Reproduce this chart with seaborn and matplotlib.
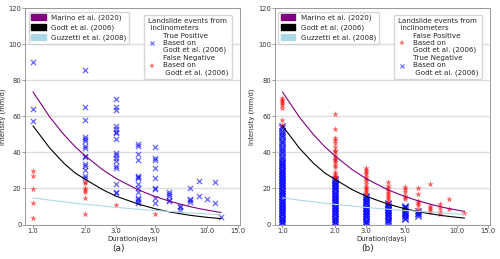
import pandas as pd
import matplotlib
matplotlib.use("Agg")
import matplotlib.pyplot as plt
import seaborn as sns
from matplotlib.patches import Patch
from matplotlib.lines import Line2D
from matplotlib.ticker import NullLocator

# --- threshold curves ---
curve_dur = [1, 1.25, 1.5, 1.75, 2, 2.5, 3, 4, 5, 6, 7, 8, 9, 10, 11, 12]
marino = [73.5, 59.5, 50.0, 43.0, 38.0, 30.5, 25.5, 19.3, 15.6, 13.1, 11.3, 9.9, 8.8, 8.0, 7.3, 6.7]
godt = [54.7, 42.3, 34.1, 28.5, 25.0, 19.4, 15.7, 11.4, 8.8, 7.1, 6.0, 5.1, 4.5, 4.0, 3.6, 3.3]
guzzetti = [14.8, 13.5, 12.6, 11.8, 11.2, 10.3, 9.5, 8.5, 7.8, 7.3, 6.9, 6.4, 6.2, 5.9, 5.6, 5.4]

# --- panel (a) events ---
a_tp_dur = ([1] * 3 + [2] * 15 + [3] * 17 + [4] * 14 + [5] * 9 + [6] * 5
            + [7] * 3 + [8] * 4 + [9] * 2 + [10] + [11] * 2 + [12])
a_tp_int = [90, 64, 57.5,
            85.5, 65, 58, 48.5, 47.5, 46.5, 43.5, 42.5, 38, 37.5, 33.5, 32.5, 30.5, 27, 26,
            69.5, 65, 63.5, 54.5, 53, 51.5, 50.5, 47.3, 39.7, 38.3, 36.8, 35.3, 32.5, 31.4, 22.5, 18.2, 17.5,
            44.8, 43.3, 38.9, 35.6, 27, 26.3, 25.6, 22.2, 20.4, 18.1, 14.8, 14.1, 13, 12.2,
            43, 37, 36, 31.1, 25.9, 20, 19.6, 14.8, 11.9,
            18.1, 17, 15.9, 13.7, 13,
            10.4, 9.6, 7.8,
            20, 14.4, 13.7, 12.6,
            24.4, 15.9,
            14.1,
            23.7, 12.2,
            4.1]
a_fn_dur = [1] * 5 + [2] * 7 + [3] + [5]
a_fn_int = [29.5, 27, 19.5, 12, 3.5,
            23.5, 23, 20.5, 19.3, 18, 14.8, 6,
            10.9,
            5.8]

# --- panel (b) events ---
b_fp_dur = ([1] * 8 + [2] * 20 + [3] * 13 + [4] * 9 + [5] * 6 + [6] * 6
            + [7] * 5 + [8] * 4 + [9] * 2 + [11])
b_fp_int = [70.2, 69.3, 68.2, 67.1, 66, 64.8, 58, 55.3,
            61.5, 53, 48, 46.8, 45, 43.2, 41, 40.5, 38.5, 37.6, 36.5, 35.5, 34.5, 33.2, 32, 29, 28, 27, 26.2, 25.6,
            31.3, 30.2, 29, 27.8, 26.2, 25, 24, 22.4, 21, 20.2, 19.2, 18, 16.9,
            23.6, 21.5, 20.1, 18.8, 17.4, 16.4, 15.5, 14, 12.5,
            20.6, 19.5, 17.9, 15.8, 15, 14.2,
            20.4, 17, 13, 12, 10.7, 8.4,
            22.6, 10.4, 9.3, 8, 6.9,
            11.2, 9.2, 7.2, 5.7,
            14.2, 8.7,
            6.5]
b_tn_d1 = [0.3, 1.2, 2.0, 3.0, 3.8, 4.7, 5.6, 6.4, 7.3, 8.1, 9.0, 9.8, 10.7, 11.6, 12.4, 13.3,
           14.2, 15.0, 15.9, 16.7, 17.6, 18.5, 19.4, 20.2, 21.1, 21.9, 22.8, 23.6, 24.5, 25.4,
           26.2, 27.1, 28.0, 28.8, 29.7, 30.5, 31.4, 32.3, 33.1, 34.0, 34.9, 35.7,
           37.0, 38.2, 39.5, 40.7, 42.0, 43.1, 44.5, 45.8, 47.0, 48.3, 49.5, 50.8, 52.1, 53.3, 54.6]
b_tn_d2 = [0.4, 1.3, 2.1, 3.0, 3.9, 4.7, 5.6, 6.5, 7.3, 8.2, 9.1, 9.9, 10.8, 11.7, 12.5,
           13.4, 14.3, 15.1, 16.0, 16.9, 17.7, 18.6, 19.5, 20.3, 21.2, 22.1, 22.9, 23.8, 24.6, 25.3]
b_tn_d3 = [0.5, 1.4, 2.2, 3.1, 4.0, 4.8, 5.7, 6.6, 7.4, 8.3, 9.2, 10.0, 10.9, 11.8, 12.6,
           13.5, 14.4, 15.2, 15.8]
b_tn_d4 = [1.0, 1.9, 2.8, 3.6, 4.5, 5.3, 6.2, 7.1, 7.9, 8.8, 9.7, 10.5, 11.4, 12.0]
b_tn_d5 = [2.9, 3.8, 4.6, 5.5, 6.3, 7.2, 8.0, 8.9, 9.6, 10.2]
b_tn_d6 = [4.8, 5.6, 6.5, 7.4]
b_tn_dur = ([1] * len(b_tn_d1) + [2] * len(b_tn_d2) + [3] * len(b_tn_d3)
            + [4] * len(b_tn_d4) + [5] * len(b_tn_d5) + [6] * len(b_tn_d6))
b_tn_int = b_tn_d1 + b_tn_d2 + b_tn_d3 + b_tn_d4 + b_tn_d5 + b_tn_d6

xticks = [1, 2, 3, 5, 10, 15]
xticklabels = ["1.0", "2.0", "3.0", "5.0", "10.0", "15.0"]
yticks = [0, 20, 40, 60, 80, 100, 120]

sns.set_style("whitegrid")
plt.rcParams['font.family'] = ['DejaVu Sans']
FS = 5.1

fig = plt.figure(figsize=(5, 2.59), dpi=100)
ax_a = fig.add_axes([0.05, 0.133, 0.429, 0.836])
ax_b = fig.add_axes([0.549, 0.133, 0.430, 0.836])


def draw_curves(ax, n):
    df = pd.DataFrame({"dur": curve_dur[:n], "marino": marino[:n],
                       "godt": godt[:n], "guzzetti": guzzetti[:n]})
    sns.lineplot(data=df, x="dur", y="marino", color="purple", lw=0.8, ax=ax)
    sns.lineplot(data=df, x="dur", y="godt", color="black", lw=0.8, ax=ax)
    sns.lineplot(data=df, x="dur", y="guzzetti", color="lightblue", lw=0.8, ax=ax)


def scatter_blue(ax, d, v, alpha, size):
    sns.scatterplot(x=d, y=v, marker="x", color="blue", s=size, alpha=alpha,
                    linewidth=0.9, ax=ax)


def scatter_red(ax, d, v):
    sns.scatterplot(x=d, y=v, marker="*", color="red", s=24, alpha=0.6,
                    linewidth=0, ax=ax)


def style_axes(ax, caption, cx):
    ax.set_xscale("log")
    ax.set_xlim(0.9, 15.3)
    ax.set_ylim(0, 120)
    ax.set_xticks(xticks)
    ax.set_xticklabels(xticklabels)
    ax.xaxis.set_minor_locator(NullLocator())
    ax.set_yticks(yticks)
    ax.grid(axis="x", visible=False)
    ax.grid(axis="y", color="#dddddd", lw=1)
    ax.tick_params(length=2, width=0.6, color="#888888", labelsize=4.9,
                   labelcolor="#333333", pad=0.5, left=True, bottom=True)
    for sp in ax.spines.values():
        sp.set_color("#999999")
        sp.set_linewidth(0.7)
    ax.set_xlabel("Duration(days)", fontsize=4.9, labelpad=1)
    ax.set_ylabel("Intensity (mm/d)", fontsize=4.9, labelpad=2)
    fig.text(cx, 0.042, caption, ha="center", va="center", fontsize=6.5)

    leg1 = ax.legend(handles=[Patch(color="purple", label="Marino et al. (2020)"),
                              Patch(color="black", label="Godt et al. (2006)"),
                              Patch(color="lightblue", label="Guzzetti et al. (2008)")],
                     loc="upper left", fontsize=FS, handlelength=2.0,
                     handleheight=0.9, labelspacing=0.4, borderaxespad=0.5)
    ax.add_artist(leg1)


blue_h = Line2D([], [], marker="x", color="blue", alpha=0.6, ls="", markersize=2.5, mew=0.8)
red_h = Line2D([], [], marker="*", color="red", alpha=0.6, ls="", markersize=3.8, mew=0)

# panel (a)
draw_curves(ax_a, 16)
scatter_blue(ax_a, a_tp_dur, a_tp_int, 0.6, 14)
scatter_red(ax_a, a_fn_dur, a_fn_int)
style_axes(ax_a, "(a)", 0.237)
ax_a.legend(handles=[blue_h, red_h],
            labels=["True Positive\nBased on\nGodt et al. (2006)",
                    "False Negative\nBased on\n Godt et al. (2006)"],
            title="Landslide events from\n Inclinometers", title_fontsize=FS,
            fontsize=FS, loc="upper right", bbox_to_anchor=(0.98, 0.985),
            handlelength=1.6, labelspacing=0.3)

# panel (b)
draw_curves(ax_b, 15)
scatter_blue(ax_b, b_tn_dur, b_tn_int, 0.75, 20)
scatter_red(ax_b, b_fp_dur, b_fp_int)
style_axes(ax_b, "(b)", 0.735)
ax_b.legend(handles=[red_h, blue_h],
            labels=["False Positive\nBased on\nGodt et al. (2006)",
                    "True Negative\nBased on\n Godt et al. (2006)"],
            title="Landslide events from\n Inclinometers", title_fontsize=FS,
            fontsize=FS, loc="upper right", bbox_to_anchor=(0.98, 0.985),
            handlelength=1.6, labelspacing=0.3)

fig.savefig("out.png", dpi=100)
